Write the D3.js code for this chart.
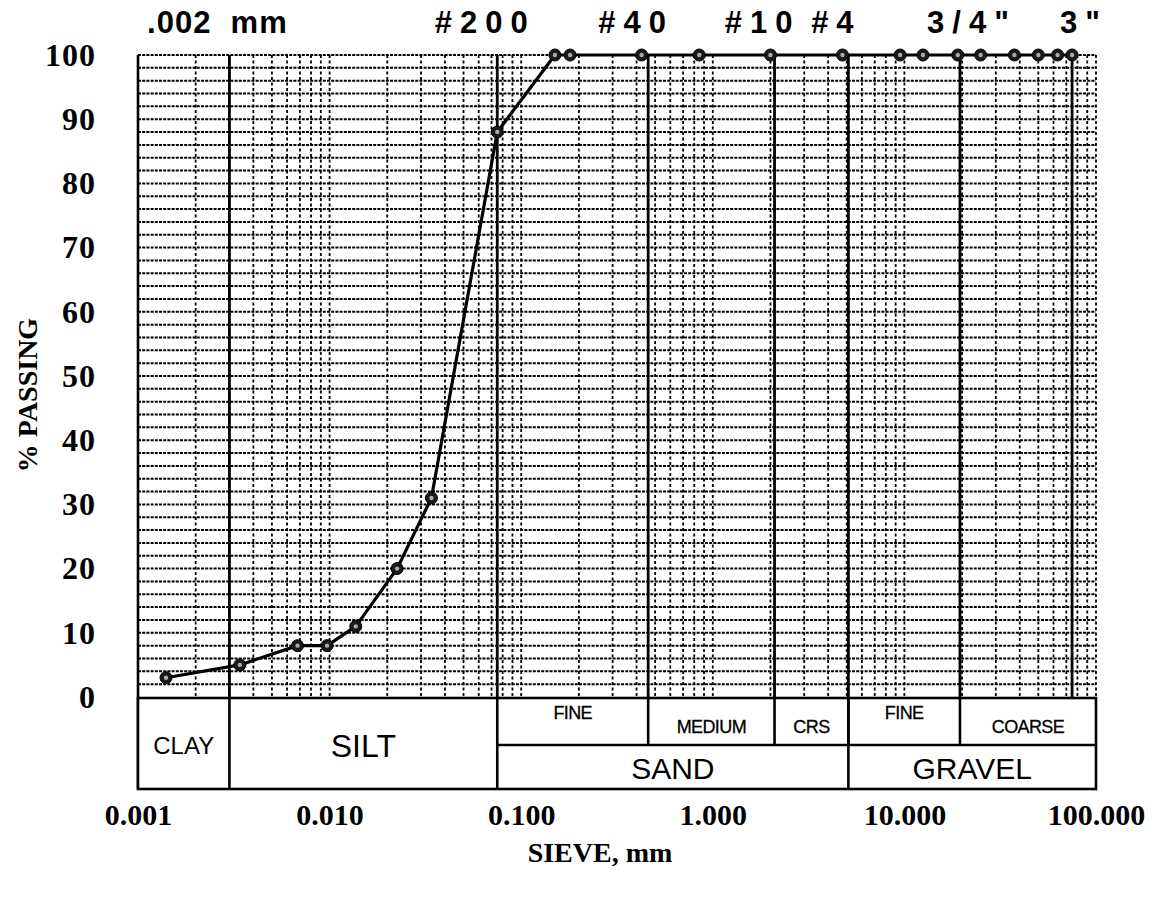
<!DOCTYPE html>
<html>
<head>
<meta charset="UTF-8">
<title>Grain size distribution</title>
<script src="https://cdn.jsdelivr.net/npm/d3@7"></script>
<style>
  body { margin: 0; background: #fff; }
  svg { display: block; }
  .serif { font-family: "Liberation Serif", "Times New Roman", serif; font-weight: bold; }
  .sans { font-family: "Liberation Sans", Arial, sans-serif; }
  .narrow { font-family: "Liberation Sans Narrow", "Arial Narrow", "Liberation Sans", sans-serif; }
</style>
</head>
<body>
<svg id="chart" width="1157" height="903"></svg>
<script>
// ---------------------------------------------------
// data
// ---------------------------------------------------
var grainSize = [0.0014, 0.0034, 0.0068, 0.0097, 0.0137, 0.0225, 0.034, 0.075, 0.15, 0.18,
                 0.425, 0.85, 2.0, 4.75, 9.5, 12.5, 19, 25, 37.5, 50, 63, 75];
var percentPassing = [3, 5, 8, 8, 11, 20, 31, 88, 100, 100,
                      100, 100, 100, 100, 100, 100, 100, 100, 100, 100, 100, 100];

var yTicks = [0, 10, 20, 30, 40, 50, 60, 70, 80, 90, 100];
var xTicks = [0.001, 0.01, 0.1, 1, 10, 100];
var xTickLabels = ["0.001", "0.010", "0.100", "1.000", "10.000", "100.000"];

// heavy lines + labels along the top
var sieveLabels = [".002  mm", "#200", "#40", "#10", "#4", "3/4\"", "3\""];
var sieveSizes = [0.003, 0.075, 0.46, 2.1, 5.1, 19.5, 75];

// classification strip under the plot
var soilClasses = ["CLAY", "SILT", "SAND", "GRAVEL"];
var classBounds = [0.001, 0.003, 0.075, 5.1, 100];
var subClasses = ["FINE", "MEDIUM", "CRS", "FINE", "COARSE"];
var subBounds = [0.075, 0.46, 2.1, 5.1, 19.5, 100];

// ---------------------------------------------------
// drawing
// ---------------------------------------------------
var svg = d3.select("#chart");
var x = d3.scaleLog().domain([0.001, 100]).range([138, 1096]);
var y = d3.scaleLinear().domain([0, 100]).range([697, 55]);
var tableTop = 698, tableMid = 745, tableBot = 789;

// horizontal grid, every 2 %
svg.append("g").selectAll("line")
  .data(d3.range(2, 101, 2))
  .join("line")
  .attr("x1", x(0.001)).attr("x2", x(100))
  .attr("y1", function (d) { return y(d); })
  .attr("y2", function (d) { return y(d); })
  .attr("stroke", "#000")
  .attr("stroke-width", 2)
  .attr("stroke-dasharray", "3,1.2");

// vertical log grid
svg.append("g").selectAll("line")
  .data(x.ticks().filter(function (d) { return d > 0.001; }))
  .join("line")
  .attr("x1", function (d) { return x(d); })
  .attr("x2", function (d) { return x(d); })
  .attr("y1", y(100)).attr("y2", y(0))
  .attr("stroke", "#000")
  .attr("stroke-width", 1.8)
  .attr("stroke-dasharray", "3,2.5");

// heavy sieve lines
svg.append("g").selectAll("line")
  .data(sieveSizes)
  .join("line")
  .attr("x1", function (d) { return x(d); })
  .attr("x2", function (d) { return x(d); })
  .attr("y1", y(100)).attr("y2", tableTop)
  .attr("stroke", "#000")
  .attr("stroke-width", 2.8);

// left edge of the plot
svg.append("line")
  .attr("x1", x(0.001)).attr("x2", x(0.001))
  .attr("y1", y(100)).attr("y2", tableBot)
  .attr("stroke", "#000").attr("stroke-width", 2.6);

// classification table
var table = svg.append("g");
table.append("rect")
  .attr("x", x(0.001)).attr("y", tableTop)
  .attr("width", x(100) - x(0.001)).attr("height", tableBot - tableTop)
  .attr("fill", "#fff").attr("stroke", "#000").attr("stroke-width", 2.6);

table.selectAll("line.cls")
  .data(classBounds.slice(1, -1))
  .join("line")
  .attr("class", "cls")
  .attr("x1", function (d) { return x(d); })
  .attr("x2", function (d) { return x(d); })
  .attr("y1", tableTop).attr("y2", tableBot)
  .attr("stroke", "#000").attr("stroke-width", 2.6);

table.selectAll("line.sub")
  .data(subBounds.slice(1, -1))
  .join("line")
  .attr("class", "sub")
  .attr("x1", function (d) { return x(d); })
  .attr("x2", function (d) { return x(d); })
  .attr("y1", tableTop).attr("y2", tableMid)
  .attr("stroke", "#000").attr("stroke-width", 2.6);

table.append("line")
  .attr("x1", x(subBounds[0])).attr("x2", x(100))
  .attr("y1", tableMid).attr("y2", tableMid)
  .attr("stroke", "#000").attr("stroke-width", 2.6);

table.selectAll("text.cls")
  .data(soilClasses)
  .join("text")
  .attr("class", "cls sans")
  .attr("x", function (d, i) { return (x(classBounds[i]) + x(classBounds[i + 1])) / 2; })
  .attr("y", function (d, i) { return i < 2 ? (tableTop + tableBot) / 2 + 2 : (tableMid + tableBot) / 2 + 1; })
  .attr("text-anchor", "middle")
  .attr("dominant-baseline", "central")
  .attr("font-size", function (d, i) { return i === 0 ? 24 : (i === 1 ? 32 : 30); })
  .text(function (d) { return d; });

table.selectAll("text.sub")
  .data(subClasses)
  .join("text")
  .attr("class", "sub narrow")
  .attr("x", function (d, i) { return (x(subBounds[i]) + x(subBounds[i + 1])) / 2; })
  .attr("y", function (d) { return d === "FINE" ? tableTop + 15 : tableTop + 29; })
  .attr("text-anchor", "middle")
  .attr("dominant-baseline", "central")
  .attr("font-size", 18)
  .attr("letter-spacing", -0.6)
  .attr("stroke", "#000")
  .attr("stroke-width", 0.3)
  .text(function (d) { return d; });

// gradation curve
var pts = grainSize.map(function (d, i) { return [d, percentPassing[i]]; });
var line = d3.line()
  .x(function (d) { return x(d[0]); })
  .y(function (d) { return y(d[1]); });

svg.append("path")
  .datum(pts)
  .attr("d", line)
  .attr("fill", "none")
  .attr("stroke", "#000")
  .attr("stroke-width", 3.2)
  .attr("stroke-linejoin", "round");

var dots = svg.append("g").selectAll("g")
  .data(pts)
  .join("g")
  .attr("transform", function (d) { return "translate(" + x(d[0]) + "," + y(d[1]) + ")"; });
dots.append("circle").attr("r", 6).attr("fill", "#1a1a1a").attr("stroke", "#000").attr("stroke-width", 1);
dots.append("circle").attr("r", 2.2).attr("fill", "#aaa");

// axes
var yAxis = svg.append("g")
  .attr("transform", "translate(" + x(0.001) + ",0)")
  .call(d3.axisLeft(y).tickValues(yTicks).tickSize(0).tickPadding(42));
yAxis.select(".domain").remove();
yAxis.selectAll("text")
  .attr("class", "serif")
  .attr("font-size", 32)
  .attr("fill", "#000")
  .attr("letter-spacing", 1);

var xAxis = svg.append("g")
  .attr("transform", "translate(0," + tableBot + ")")
  .call(d3.axisBottom(x).tickValues(xTicks).tickSize(0).tickPadding(15)
    .tickFormat(function (d, i) { return xTickLabels[i]; }));
xAxis.select(".domain").remove();
xAxis.selectAll("text")
  .attr("class", "serif")
  .attr("font-size", 30)
  .attr("fill", "#000");

// sieve labels on top: number sieves sit a little left of their line, inch sieves a little right
svg.append("g").selectAll("text")
  .data(sieveLabels)
  .join("text")
  .attr("class", "sans")
  .attr("x", function (d, i) { return x(sieveSizes[i]); })
  .attr("dx", function (d) { return d.indexOf("\"") > 0 ? 12 : -12; })
  .attr("y", 33)
  .attr("text-anchor", "middle")
  .attr("font-weight", "bold")
  .attr("font-size", 31)
  .attr("letter-spacing", function (d, i) { return i === 0 ? 1 : 8; })
  .style("white-space", "pre")
  .text(function (d) { return d; });

// axis titles
svg.append("text")
  .attr("class", "serif")
  .attr("transform", "translate(27,395) rotate(-90)")
  .attr("text-anchor", "middle")
  .attr("dominant-baseline", "central")
  .attr("font-size", 28)
  .text("% PASSING");

svg.append("text")
  .attr("class", "serif")
  .attr("x", 600)
  .attr("y", 862)
  .attr("text-anchor", "middle")
  .attr("font-size", 28)
  .text("SIEVE, mm");
</script>
</body>
</html>
